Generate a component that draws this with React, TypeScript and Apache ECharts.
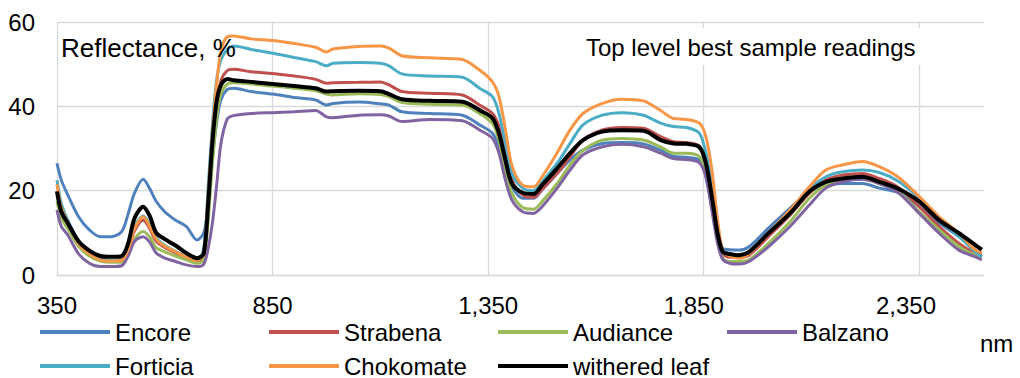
import React, { useEffect, useRef } from "react";
import * as echarts from "echarts";

const FONT = "Liberation Sans, Arial, sans-serif";

const wavelengths = [350,360,375,400,425,450,475,500,515,530,550,565,580,600,625,650,675,690,700,710,720,730,745,760,800,850,900,950,975,990,1050,1100,1120,1150,1215,1290,1330,1360,1375,1390,1405,1430,1455,1475,1510,1540,1570,1615,1660,1710,1750,1780,1810,1840,1855,1870,1882,1894,1910,1932,1955,2000,2050,2095,2133,2172,2218,2257,2300,2350,2396,2442,2480,2495];

const encore = [26.5,22.5,19.0,13.8,10.7,9.1,9.1,10.3,14.5,19.5,22.7,20.5,17.5,15.0,13.0,11.5,8.3,9.9,15.4,27,36,41.5,44.0,44.3,43.5,42.9,42.1,41.5,40.3,40.7,41.0,40.6,40.3,38.7,38.3,37.9,35.6,33.6,30.4,24.9,20.9,18.2,18.2,20.2,24.1,27.3,29.6,31.2,31.4,31.1,29.6,28.1,27.9,27.3,23.3,15.4,9.1,6.3,6.0,5.9,6.7,11.1,15.8,19.8,21.3,21.7,21.7,20.6,19.6,16.2,12.3,9.1,5.9,4.3];
const strabena = [20,15,12,7.2,4.8,3.6,3.3,3.4,6,10.5,13,11,8,6.5,5.2,4.1,3.3,4.5,15,29,40,46,48.5,48.8,48.2,47.8,47.2,46.4,45.5,45.6,45.7,45.8,45.1,43.5,43.1,42.7,40.3,38.3,35.2,28.9,22.5,19,18.4,20.3,24.1,28.1,32,34.4,35,34.8,32.8,31.6,31.4,30.6,26.5,18.6,9.9,5.1,4.2,4.2,4.7,9.1,14.2,19.4,22.5,23.7,24.1,22.9,20.9,16.2,11.5,7.5,5.1,4.7];
const audiance = [17.5,13.5,11,6.8,4.5,3.3,3.0,3.0,5.0,8.5,10.3,9.0,6.5,5.5,4.5,3.6,2.8,3.5,12,26,37,43,45.3,45.6,45.3,44.8,44.3,43.7,42.9,42.7,43.0,42.8,42.3,40.9,40.5,40.3,38.3,35.9,32,24.9,19.4,16,15.6,17.4,21.7,26.1,29.6,32,32.4,32,30.4,28.9,28.9,28.1,24.1,16.2,8.3,4.0,3.2,3.2,3.6,7.5,12.6,18.2,21.3,22.5,22.7,21.7,19.8,15,10.7,6.7,4.7,4.3];
const balzano = [15.4,11.5,9.5,5.0,2.8,2.0,2.0,2.2,4.5,8.0,9.1,7.8,5.2,4.0,3.2,2.4,2.0,2.5,6,12,21,31,37,37.8,38.3,38.5,38.7,39.0,37.5,37.3,37.9,38.0,37.7,36.4,36.9,36.6,34.4,32.4,28.9,22.5,17.8,15,14.6,16.2,20.6,24.9,28.5,30.4,31.0,30.4,28.9,27.6,27.4,26.6,23.3,14.6,7.5,3.7,2.8,2.6,3.2,6.7,11.5,16.6,20.6,22.1,22.7,21.7,19.6,14.6,9.9,5.9,4.3,3.6];
const forticia = [22.5,17,13,8,5.2,3.8,3.5,3.7,6.5,11.5,14,12,8.8,7,5.6,4.4,3.6,6,20,35,46,51,53.5,54.3,53.5,52.6,51.6,50.6,49.6,50.2,50.4,50.2,49.6,47.7,47.2,46.9,44.3,42.3,38.3,31.2,24.1,20.6,20,22.1,26.5,31.2,35.6,37.9,38.5,37.9,36,35.2,35,33.6,28.9,20.9,11.5,5.9,5.1,4.6,5.4,10,15.3,20.3,23.3,24.5,24.9,24.3,22.3,18.2,13,9.1,5.5,4.3];
const chokomate = [21.5,16,12.5,7.5,5.0,3.6,3.3,3.5,6.0,11.0,13.8,11.5,8.5,6.8,5.5,4.3,3.5,5.0,18,33,45,53,56.5,56.7,56.0,55.6,54.9,54.0,52.9,53.6,54.2,54.3,53.8,52.0,51.5,51.1,48.6,45.8,42.3,34.5,26,21.3,20.9,23.3,29,34.4,38.3,40.7,41.7,41.3,39.0,37.1,36.9,36.0,32.8,24.1,13,5.9,4.5,4.0,5.1,9.9,15.4,20.9,24.9,26.1,26.9,25.7,23.3,18.6,13.8,9.9,5.9,5.3];
const witheredLeaf = [19.8,15,12.3,8.0,5.8,4.5,4.3,4.5,7.5,13.5,16.2,14.0,10.0,8.5,7.0,5.2,4.0,5.0,16,31,41,45,46.5,46.2,45.8,45.3,44.8,44.3,43.5,43.6,43.7,43.6,42.9,41.7,41.3,41.1,39.1,37.2,33.6,27.3,21.7,19.5,19.2,21.3,25.3,28.9,32,34,34.3,34.2,32,31.2,31.1,30.3,26.5,17.8,9.9,5.5,5.0,4.7,5.5,9.9,14.6,19.8,22.1,22.9,23.3,22.1,20.5,17.4,13,9.9,7.1,6.0];

const seriesNames = ["Encore", "Strabena", "Audiance", "Balzano", "Forticia", "Chokomate", "withered leaf"];
const seriesValues = [encore, strabena, audiance, balzano, forticia, chokomate, witheredLeaf];
const seriesColors = ["#4F81BD", "#C0504D", "#9BBB59", "#8064A2", "#4BACC6", "#F79646", "#000000"];
const seriesWidths = [3, 3, 3, 3, 3, 3, 4];

const xMin = 350;
const xMax = 2500;
const xStep = 500;
const yMin = 0;
const yMax = 60;
const yStep = 20;

const yTitle = "Reflectance, %";
const chartNote = "Top level best sample readings";
const xUnit = "nm";

// trailing no-break spaces after some x labels, to mimic the reference's label placement
const xLabelTrail: Record<string, number> = { "1850": 3, "2350": 4 };

const legendPos = [
  [40, 320], [269, 320], [498, 320], [727, 320],
  [40, 354], [269, 354], [498, 354],
];

const GRID_COLOR = "#d9d9d9";

export default function App() {
  const ref = useRef<HTMLDivElement>(null);
  useEffect(() => {
    const chart = echarts.init(ref.current!, null, { renderer: "svg" });
    const option: any = {
      animation: false,
      backgroundColor: "#ffffff",
      grid: { left: 57, right: 36, top: 22, bottom: 103 },
      xAxis: {
        type: "value",
        min: xMin,
        max: xMax,
        interval: xStep,
        axisLine: { show: true, lineStyle: { color: GRID_COLOR, width: 1.3 } },
        axisTick: { show: false },
        splitLine: { show: true, showMaxLine: false, lineStyle: { color: GRID_COLOR, width: 1.3 } },
        axisLabel: {
          showMaxLabel: false,
          margin: 18,
          fontSize: 24,
          fontFamily: FONT,
          color: "#000",
          formatter: (v: any) => {
            const n = Math.round(Number(v));
            const t = n.toLocaleString("en-US");
            const k = xLabelTrail[String(n)] || 0;
            return t + "\u00a0".repeat(k);
          },
        },
      },
      yAxis: {
        type: "value",
        min: yMin,
        max: yMax,
        interval: yStep,
        axisLine: { show: false },
        axisTick: { show: false },
        splitLine: { show: true, lineStyle: { color: GRID_COLOR, width: 1.3 } },
        axisLabel: { margin: 22, fontSize: 24, fontFamily: FONT, color: "#000" },
      },
      legend: seriesNames.map((n, i) => ({
        data: [n],
        left: legendPos[i][0],
        top: legendPos[i][1],
        padding: 0,
        itemWidth: 70,
        itemHeight: 4,
        icon: "rect",
        selectedMode: false,
        textStyle: { fontSize: 24, fontFamily: FONT, color: "#000", lineHeight: 24 },
      })),
      graphic: [
        {
          type: "text",
          x: 61,
          y: 48,
          z: 20,
          style: { text: yTitle, fontSize: 26, fontFamily: FONT, fill: "#000", verticalAlign: "middle" },
        },
        {
          type: "rect",
          z: 19,
          shape: { x: 578, y: 28, width: 348, height: 37 },
          style: { fill: "#ffffff" },
        },
        {
          type: "text",
          x: 586,
          y: 47,
          z: 20,
          style: { text: chartNote, fontSize: 24, fontFamily: FONT, fill: "#000", verticalAlign: "middle" },
        },
        {
          type: "text",
          x: 980,
          y: 343,
          z: 20,
          style: { text: xUnit, fontSize: 24, fontFamily: FONT, fill: "#000", verticalAlign: "middle" },
        },
      ],
      series: seriesNames.map((n, i) => ({
        name: n,
        type: "line",
        data: wavelengths.map((w, j) => [w, seriesValues[i][j]]),
        showSymbol: false,
        symbol: "none",
        smooth: 0.3,
        color: seriesColors[i],
        lineStyle: { color: seriesColors[i], width: seriesWidths[i] },
        emphasis: { disabled: true },
        z: 2 + i,
      })),
    };
    chart.setOption(option);
    return () => chart.dispose();
  }, []);
  return (
    <div
      ref={ref}
      style={{ position: "fixed", left: 0, top: 0, width: 1020, height: 378, background: "#fff" }}
    />
  );
}
